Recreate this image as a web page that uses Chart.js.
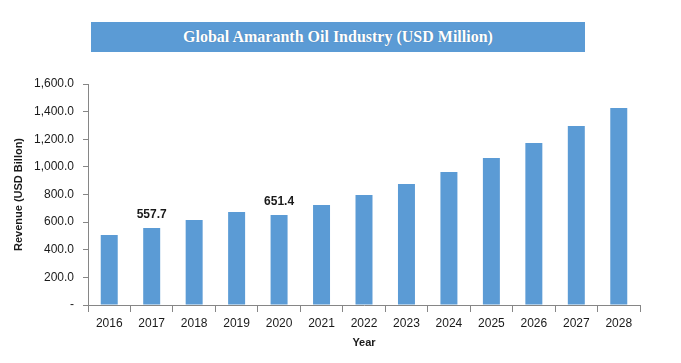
<!DOCTYPE html>
<html>
<head>
<meta charset="utf-8">
<script src="https://cdn.jsdelivr.net/npm/chart.js@4/dist/chart.umd.min.js"></script>
<style>
  html, body { margin: 0; padding: 0; background: #ffffff; }
  #wrap { position: relative; width: 681px; height: 363px; }
  #title {
    position: absolute; left: 91px; top: 22px; width: 494px; height: 30px;
    background: #5b9bd5; color: #ffffff; font-family: "Liberation Serif", "Times New Roman", serif;
    font-weight: bold; font-size: 16px; line-height: 30px; text-align: center;
    text-shadow: 0 0 1px rgba(0,0,0,0.25);
  }
  canvas { position: absolute; left: 0; top: 0; }
</style>
</head>
<body>
<div id="wrap">
  <canvas id="c" width="681" height="363"></canvas>
  <div id="title">Global Amaranth Oil Industry (USD Million)</div>
</div>
<script>
const years = ['2016','2017','2018','2019','2020','2021','2022','2023','2024','2025','2026','2027','2028'];
const revenue = [507, 557.7, 615, 673, 651.4, 724, 796, 876, 963, 1064, 1173, 1296, 1426];
const labeledYears = ['2017', '2020'];
const yTicks = [0, 200, 400, 600, 800, 1000, 1200, 1400, 1600];

const fmt = v => v === 0 ? '-' : v.toLocaleString('en-US', {minimumFractionDigits: 1, maximumFractionDigits: 1});

const valueLabels = {
  id: 'valueLabels',
  afterDatasetsDraw(chart) {
    const ctx = chart.ctx;
    const meta = chart.getDatasetMeta(0);
    ctx.save();
    ctx.font = 'bold 12px "Liberation Sans", Arial, sans-serif';
    ctx.fillStyle = '#1a1a1a';
    ctx.textAlign = 'center';
    ctx.textBaseline = 'bottom';
    years.forEach((y, i) => {
      if (labeledYears.includes(y)) {
        const el = meta.data[i];
        ctx.fillText(revenue[i].toFixed(1), el.x, el.y - 7);
      }
    });
    ctx.restore();
  }
};

new Chart(document.getElementById('c'), {
  type: 'bar',
  data: {
    labels: years,
    datasets: [{
      data: revenue,
      backgroundColor: '#5b9bd5',
      barPercentage: 0.4,
      categoryPercentage: 1.0
    }]
  },
  options: {
    responsive: false,
    animation: false,
    devicePixelRatio: 1,
    layout: { padding: { left: 0, right: 41, top: 84, bottom: 0 } },
    plugins: { legend: { display: false }, tooltip: { enabled: false }, title: { display: false } },
    scales: {
      x: {
        offset: true,
        grid: { display: true, drawOnChartArea: false, drawTicks: true, tickLength: 7, color: '#868686', offset: true },
        border: { display: true, color: '#868686' },
        ticks: { color: '#1a1a1a', font: { family: '"Liberation Sans", Arial, sans-serif', size: 12 }, padding: 4, maxRotation: 0 },
        title: { display: true, text: 'Year', color: '#1a1a1a', font: { family: '"Liberation Sans", Arial, sans-serif', size: 11, weight: 'bold' }, padding: { top: 4, bottom: 13 } },
        afterFit(s) { s.height = 58; }
      },
      y: {
        min: 0, max: 1600,
        afterBuildTicks(s) { s.ticks = yTicks.map(v => ({ value: v })); },
        grid: { display: true, drawOnChartArea: false, drawTicks: true, tickLength: 5, color: '#868686' },
        border: { display: true, color: '#868686' },
        ticks: { color: '#1a1a1a', font: { family: '"Liberation Sans", Arial, sans-serif', size: 12 }, padding: 9, callback: v => fmt(v) },
        title: { display: true, text: 'Revenue (USD Billon)', color: '#1a1a1a', font: { family: '"Liberation Sans", Arial, sans-serif', size: 11, weight: 'bold' }, padding: { top: 12, bottom: 0 } },
        afterFit(s) { s.width = 88; }
      }
    }
  },
  plugins: [valueLabels]
});
</script>
</body>
</html>
